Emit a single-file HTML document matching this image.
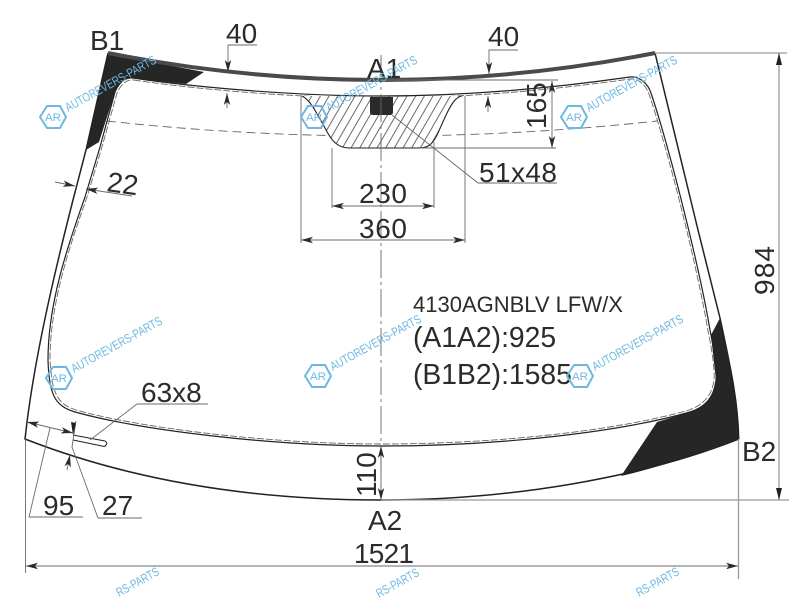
<!DOCTYPE html>
<html><head><meta charset="utf-8"><style>
html,body{margin:0;padding:0;background:#fff;width:800px;height:600px;overflow:hidden}
svg{display:block;overflow:hidden}
text{font-family:"Liberation Sans",sans-serif;fill:#2b2b2b}
.t{font-size:28px}
.d{fill:none;stroke:#6a6a6a;stroke-width:.9}
.g{fill:none;stroke:#9a9a9a;stroke-width:1.3}
.w text{fill:#6db8e2}
</style></head><body>
<svg width="800" height="600" viewBox="0 0 800 600" xmlns="http://www.w3.org/2000/svg">
<defs>
<marker id="a" markerUnits="userSpaceOnUse" markerWidth="16" markerHeight="10" refX="14" refY="5" orient="auto-start-reverse"><path d="M14,5 L2,1.8 L5,5 L2,8.2 Z" fill="#2b2b2b"/></marker>
<pattern id="h" width="7.5" height="20" patternUnits="userSpaceOnUse" patternTransform="rotate(30)"><path d="M3,0V20" stroke="#444" stroke-width=".8"/></pattern>
<clipPath id="c"><path d="M302,96 C310,100 315,110 325,128 C332,142 338,148 350,148 L418,148 C428,148 432,145 437,135 L447,113 C452,103 456,97 462,96 Z"/></clipPath>
</defs>
<rect width="800" height="600" fill="#fff"/>

<!-- dashed -->
<path d="M107,121 Q381,151 657,121" fill="none" stroke="#666" stroke-width=".9" stroke-dasharray="9 5"/>
<path d="M134,80 C200,90 300,98 381,98 C470,98 560,89 630,79 C638,78 646,85 649,94 C668,150 698,270 708,331 C712,350 715,370 714,380 C712,396 703,405 689,410 C620,430 500,444 381,444 C270,444 140,428 76,410 C58,404 52,395 50,360 C50,300 72,240 87,197 L102,147 L117,93 C121,84 127,79 134,80 Z" fill="none" stroke="#666" stroke-width=".9" stroke-dasharray="7 2"/>

<!-- trapezoid -->
<path d="M302,96 C310,100 315,110 325,128 C332,142 338,148 350,148 L418,148 C428,148 432,145 437,135 L447,113 C452,103 456,97 462,96 Z" fill="#fff"/>
<rect x="295" y="90" width="175" height="62" fill="url(#h)" clip-path="url(#c)"/>
<path d="M302,96 C310,100 315,110 325,128 C332,142 338,148 350,148 L418,148 C428,148 432,145 437,135 L447,113 C452,103 456,97 462,96" fill="none" stroke="#222" stroke-width="1.1"/>
<path d="M370,97 H393 V112 Q393,115 390,115 H373 Q370,115 370,112 Z" fill="#2a2a2a"/>

<!-- black print areas -->
<path d="M108,53 Q140,60 204,72 L186,84 C165,82 150,80 133,78 C126,77 119,82 115,92 L99,142 L86,150 Z" fill="#262626"/>
<path d="M738.7,439 C738,400 730,365 720,318 L711,335 L716,380 C714,398 705,407 690,412 L657,422 L621,476 C665,466 700,452 738.7,439 Z" fill="#262626"/>

<!-- glass outlines -->
<path d="M133,78 C200,88 300,96 381,96 C470,96 560,87 630,77 C640,76 648,84 651,93 C670,150 700,270 710,330 C714,350 717,370 716,380 C714,398 705,407 690,412 C620,432 500,446 381,446 C270,446 140,430 75,412 C55,406 49,395 48,360 C48,300 70,240 85,197 L100,147 L115,92 C119,82 126,77 133,78 Z" fill="none" stroke="#222" stroke-width="1.2"/>
<path d="M108,53 L86,150 L73,200 C50,290 35,360 27,422 L25,439 C130,480 250,500 381,500 C510,500 640,478 738.7,439 C738,400 730,365 720,318 L698,230 L655,53" fill="none" stroke="#222" stroke-width="1.5"/>
<path d="M108,53 Q380,107 655,53" fill="none" stroke="#4a4a4a" stroke-width="4"/>

<!-- slot -->
<path d="M73,435 L105,441 Q108,443 106,445 Q105,447 102,446 L73,440" fill="none" stroke="#222" stroke-width="1"/>

<!-- centre line -->
<path d="M381,55 V500" fill="none" stroke="#666" stroke-width=".9" stroke-dasharray="28 4 3 4"/>

<!-- dims -->
<path class="d" d="M332,148 V208 M434,142 V208 M301,96 V243 M465,96 V243"/>
<path class="d" d="M332,206 H434" marker-start="url(#a)" marker-end="url(#a)"/>
<path class="d" d="M301,240 H465" marker-start="url(#a)" marker-end="url(#a)"/>
<path class="d" d="M420,148 H556 M381,80 H558"/>
<path class="d" d="M552,81 V148" marker-start="url(#a)" marker-end="url(#a)"/>
<path class="d" d="M392,115 L478,183 H557"/>
<path class="d" d="M257,45 H228 V72" marker-end="url(#a)"/>
<path class="d" d="M227,108 V93" marker-end="url(#a)"/>
<path class="d" d="M518,50 H489 V74" marker-end="url(#a)"/>
<path class="d" d="M488,112 V96" marker-end="url(#a)"/>
<path class="d" d="M55,182 L75,186" marker-end="url(#a)"/>
<path class="d" d="M132,196 L86,189" marker-end="url(#a)"/>
<path class="g" d="M655,53 H787 M381,500 H789 M738.5,439 V579"/>
<path class="d" d="M25.5,439 V573"/>
<path class="g" d="M779,53 V500" stroke="#888"/>
<path d="M779,53 l-3,12 h6 Z M779,500 l-3,-12 h6 Z" fill="#222"/>
<path class="d" d="M26,566 H738" marker-start="url(#a)" marker-end="url(#a)"/>
<path class="d" d="M381,446 V500" marker-start="url(#a)" marker-end="url(#a)"/>
<path class="d" d="M137,404 H208 M137,404 L90,440"/>
<path class="d" d="M83,517 H29 L50,428"/>
<path class="d" d="M27,422 L73,433" marker-start="url(#a)" marker-end="url(#a)"/>
<path class="d" d="M142,518 H98 L72,447 L76,421"/>
<path class="d" d="M67,470 L70,455" marker-end="url(#a)"/>
<path d="M76,423 L73,435 L71,422 Z" fill="#222"/>

<!-- labels -->
<text class="t" x="90" y="50">B1</text>
<text class="t" x="226" y="43">40</text>
<text class="t" x="488" y="46">40</text>
<text class="t" x="367" y="78">A1</text>
<text class="t" x="479" y="182" textLength="78">51x48</text>
<text class="t" x="359" y="203" textLength="48">230</text>
<text class="t" x="359" y="238" textLength="48">360</text>
<text class="t" transform="translate(106,191) rotate(8)">22</text>
<text class="t" transform="translate(546,129) rotate(-90)">165</text>
<text class="t" transform="translate(774,295) rotate(-90)" textLength="49">984</text>
<text class="t" transform="translate(376,497) rotate(-90)">110</text>
<text x="413" y="312" font-size="22">4130AGNBLV LFW/X</text>
<text x="413" y="347" font-size="28.3">(A1A2):925</text>
<text x="413" y="384" font-size="28.3">(B1B2):1585</text>
<text class="t" x="141" y="402">63x8</text>
<text class="t" x="43" y="515">95</text>
<text class="t" x="102" y="515">27</text>
<text class="t" x="742" y="461">B2</text>
<text class="t" x="368" y="530">A2</text>
<text class="t" x="354" y="563" textLength="60">1521</text>

<!-- watermarks -->
<g class="w">
<g transform="translate(53,117)"><path d="M-13,0 L-6,-11 L7,-11 L13,0 L7,11 L-6,11 Z" fill="none" stroke="#6db8e2" stroke-width="2"/><text x="-8" y="4" font-size="11" textLength="16" lengthAdjust="spacingAndGlyphs">AR</text><text transform="translate(15,-5) rotate(-29)" font-size="12.5" textLength="102" lengthAdjust="spacingAndGlyphs">AUTOREVERS-PARTS</text></g>
<g transform="translate(314,117)"><path d="M-13,0 L-6,-11 L7,-11 L13,0 L7,11 L-6,11 Z" fill="none" stroke="#6db8e2" stroke-width="2"/><text x="-8" y="4" font-size="11" textLength="16" lengthAdjust="spacingAndGlyphs">AR</text><text transform="translate(15,-5) rotate(-29)" font-size="12.5" textLength="102" lengthAdjust="spacingAndGlyphs">AUTOREVERS-PARTS</text></g>
<g transform="translate(574,117)"><path d="M-13,0 L-6,-11 L7,-11 L13,0 L7,11 L-6,11 Z" fill="none" stroke="#6db8e2" stroke-width="2"/><text x="-8" y="4" font-size="11" textLength="16" lengthAdjust="spacingAndGlyphs">AR</text><text transform="translate(15,-5) rotate(-29)" font-size="12.5" textLength="102" lengthAdjust="spacingAndGlyphs">AUTOREVERS-PARTS</text></g>
<g transform="translate(59,378)"><path d="M-13,0 L-6,-11 L7,-11 L13,0 L7,11 L-6,11 Z" fill="none" stroke="#6db8e2" stroke-width="2"/><text x="-8" y="4" font-size="11" textLength="16" lengthAdjust="spacingAndGlyphs">AR</text><text transform="translate(15,-5) rotate(-29)" font-size="12.5" textLength="102" lengthAdjust="spacingAndGlyphs">AUTOREVERS-PARTS</text></g>
<g transform="translate(318,376)"><path d="M-13,0 L-6,-11 L7,-11 L13,0 L7,11 L-6,11 Z" fill="none" stroke="#6db8e2" stroke-width="2"/><text x="-8" y="4" font-size="11" textLength="16" lengthAdjust="spacingAndGlyphs">AR</text><text transform="translate(15,-5) rotate(-29)" font-size="12.5" textLength="102" lengthAdjust="spacingAndGlyphs">AUTOREVERS-PARTS</text></g>
<g transform="translate(580,376)"><path d="M-13,0 L-6,-11 L7,-11 L13,0 L7,11 L-6,11 Z" fill="none" stroke="#6db8e2" stroke-width="2"/><text x="-8" y="4" font-size="11" textLength="16" lengthAdjust="spacingAndGlyphs">AR</text><text transform="translate(15,-5) rotate(-29)" font-size="12.5" textLength="102" lengthAdjust="spacingAndGlyphs">AUTOREVERS-PARTS</text></g>
<text transform="translate(119,597) rotate(-29)" font-size="12.5" textLength="47" lengthAdjust="spacingAndGlyphs">RS-PARTS</text>
<text transform="translate(379,598) rotate(-29)" font-size="12.5" textLength="47" lengthAdjust="spacingAndGlyphs">RS-PARTS</text>
<text transform="translate(639,597) rotate(-29)" font-size="12.5" textLength="47" lengthAdjust="spacingAndGlyphs">RS-PARTS</text>
</g>
</svg>
</body></html>
